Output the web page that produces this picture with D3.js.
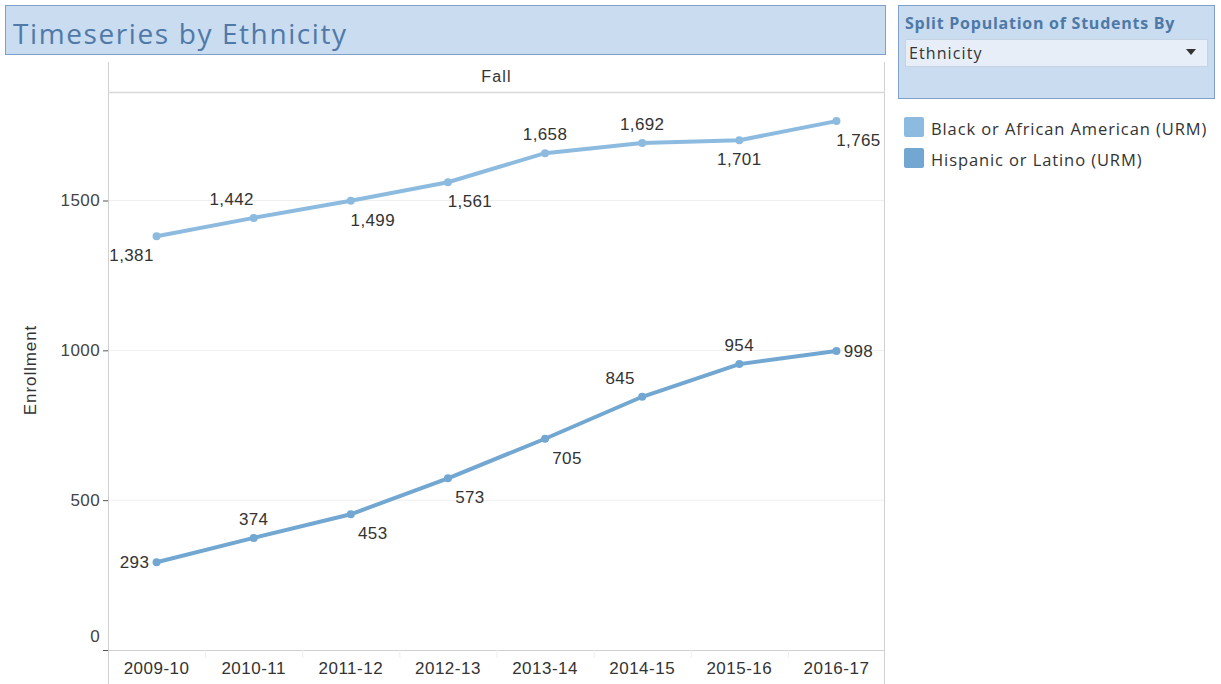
<!DOCTYPE html>
<html>
<head>
<meta charset="utf-8">
<script src="https://cdn.jsdelivr.net/npm/d3@7"></script>
<style>
  body { margin: 0; background: #fff; }
  svg { display: block; }
  text { font-family: "Liberation Sans", Arial, sans-serif; }
</style>
</head>
<body>
<svg id="chart" width="1221" height="684"></svg>
<script>
// ---- data ----
const years = ['2009-10','2010-11','2011-12','2012-13','2013-14','2014-15','2015-16','2016-17']
const seriesNames = ['Black or African American (URM)', 'Hispanic or Latino (URM)']
const blackValues = [1381, 1442, 1499, 1561, 1658, 1692, 1701, 1765]
const hispanicValues = [293, 374, 453, 573, 705, 845, 954, 998]
const yTicks = [0, 500, 1000, 1500]
// where each value label sits relative to its point
const blackLabelSide = ['bl', 'al', 'br', 'br', 'a', 'a', 'b', 'br']
const hispanicLabelSide = ['l', 'a', 'br', 'br', 'br', 'al', 'a', 'r']

const colors = ['#8dbbe0', '#72a7d2']

let svg = d3.select('#chart')

// title box
svg.append('rect').attr('x', 5.5).attr('y', 5.5).attr('width', 880).attr('height', 49)
  .attr('fill', '#c9dcf0').attr('stroke', '#7d9fc8')
svg.append('text').attr('x', 13).attr('y', 44).text('Timeseries by Ethnicity')
  .style('font-family', '"Open Sans", sans-serif').style('font-size', '28px').style('letter-spacing', '1.6px')
  .attr('fill', '#5079a8')

// filter panel
svg.append('rect').attr('x', 898.5).attr('y', 5.5).attr('width', 316).attr('height', 93)
  .attr('fill', '#c9dcf0').attr('stroke', '#7d9fc8')
svg.append('text').attr('x', 905).attr('y', 29).text('Split Population of Students By')
  .style('font-family', '"Open Sans", sans-serif').style('font-size', '16px').style('letter-spacing', '0.75px')
  .style('font-weight', 'bold').attr('fill', '#4e79a7')
svg.append('rect').attr('x', 905.5).attr('y', 39.5).attr('width', 302).attr('height', 27)
  .attr('fill', '#e7eef7').attr('stroke', '#c5d3e4')
svg.append('text').attr('x', 909).attr('y', 59).text('Ethnicity')
  .style('font-family', '"Open Sans", sans-serif').style('font-size', '16px').style('letter-spacing', '1.1px')
  .attr('fill', '#333')
svg.append('path').attr('d', 'M1186,49 L1196,49 L1191,55 Z').attr('fill', '#333')

// legend
let legend = svg.append('g')
seriesNames.forEach((name, i) => {
  legend.append('rect').attr('x', 904).attr('y', 117 + i * 31).attr('width', 20).attr('height', 20)
    .attr('rx', 2).attr('fill', colors[i])
  legend.append('text').attr('x', 931).attr('y', 135 + i * 31).text(name)
    .style('font-family', '"Open Sans", sans-serif').style('font-size', '16.5px').style('letter-spacing', '0.9px')
    .attr('fill', '#333')
})

// ---- chart ----
let plotL = 108, plotR = 885, plotT = 92, plotB = 650

let x = d3.scaleBand().domain(years).range([plotL, plotR]).padding(0)
let y = d3.scaleLinear().domain([0, 1500]).range([plotB, plotB - 449.5])

// gridlines
svg.append('g').selectAll('line').data(yTicks.filter(d => d > 0)).join('line')
  .attr('x1', plotL).attr('x2', plotR).attr('y1', d => y(d)).attr('y2', d => y(d))
  .attr('stroke', '#efefef')

// frame
svg.append('line').attr('x1', plotL + 0.5).attr('x2', plotL + 0.5).attr('y1', 62).attr('y2', 684).attr('stroke', '#d0d0d0')
svg.append('line').attr('x1', plotR - 0.5).attr('x2', plotR - 0.5).attr('y1', 62).attr('y2', 684).attr('stroke', '#d0d0d0')
svg.append('line').attr('x1', plotL).attr('x2', plotR).attr('y1', plotT + 0.5).attr('y2', plotT + 0.5).attr('stroke', '#d8d8d8').attr('stroke-width', 1.5)
svg.append('text').attr('x', (plotL + plotR) / 2).attr('y', 82).attr('text-anchor', 'middle').text('Fall')
  .style('font-size', '16px').style('letter-spacing', '1.2px').attr('fill', '#333')

// y axis
let yAxis = svg.append('g').attr('transform', `translate(${plotL},0)`)
  .call(d3.axisLeft(y).tickValues(yTicks).tickSize(5).tickPadding(3).tickFormat(d3.format('d')))
yAxis.select('.domain').remove()
yAxis.selectAll('line').attr('stroke', '#555')
yAxis.selectAll('text').style('font-size', '17px').style('letter-spacing', '0.4px')
  .style('font-family', '"Liberation Sans", Arial, sans-serif').attr('fill', '#444')
yAxis.selectAll('.tick').filter(d => d === 0).select('text').attr('dy', '-0.5em')

svg.append('text').attr('transform', 'translate(36,370) rotate(-90)').attr('text-anchor', 'middle')
  .text('Enrollment').style('font-size', '17px').style('letter-spacing', '0.9px').attr('fill', '#333')

// x axis
svg.append('line').attr('x1', plotL).attr('x2', plotR).attr('y1', plotB + 0.5).attr('y2', plotB + 0.5).attr('stroke', '#d0d0d0')
let xAxis = svg.append('g').attr('transform', `translate(0,${plotB})`)
  .call(d3.axisBottom(x).tickSize(0).tickPadding(12))
xAxis.select('.domain').remove()
xAxis.selectAll('text').style('font-size', '17px').style('letter-spacing', '0.5px')
  .style('font-family', '"Liberation Sans", Arial, sans-serif').attr('fill', '#333')
svg.append('g').selectAll('line').data(years.slice(1)).join('line')
  .attr('x1', d => x(d) + 0.5).attr('x2', d => x(d) + 0.5).attr('y1', plotB).attr('y2', plotB + 8)
  .attr('stroke', '#eee')

// series
let cx = d => x(d) + x.bandwidth() / 2
let line = d3.line().x(d => cx(d.year)).y(d => y(d.value))
let fmt = d3.format(',')

let offsets = {
  a: [0, -19], b: [0, 19], al: [-22, -19], ar: [22, -19],
  bl: [-25, 19], br: [22, 19], l: [-22, 0], r: [22, 0]
}

let series = [
  { values: blackValues, sides: blackLabelSide, color: colors[0] },
  { values: hispanicValues, sides: hispanicLabelSide, color: colors[1] }
]

series.forEach(s => {
  let pts = years.map((yr, i) => ({ year: yr, value: s.values[i], side: s.sides[i] }))
  svg.append('path').datum(pts).attr('d', line)
    .attr('fill', 'none').attr('stroke', s.color).attr('stroke-width', 4).attr('stroke-linejoin', 'round')
  svg.append('g').selectAll('circle').data(pts).join('circle')
    .attr('cx', d => cx(d.year)).attr('cy', d => y(d.value)).attr('r', 4).attr('fill', s.color)
  svg.append('g').selectAll('text').data(pts).join('text')
    .attr('x', d => cx(d.year) + offsets[d.side][0])
    .attr('y', d => y(d.value) + offsets[d.side][1])
    .attr('dy', '0.36em').attr('text-anchor', 'middle')
    .text(d => fmt(d.value))
    .style('font-size', '17px').style('letter-spacing', '0.4px').attr('fill', '#333')
})
</script>
</body>
</html>
